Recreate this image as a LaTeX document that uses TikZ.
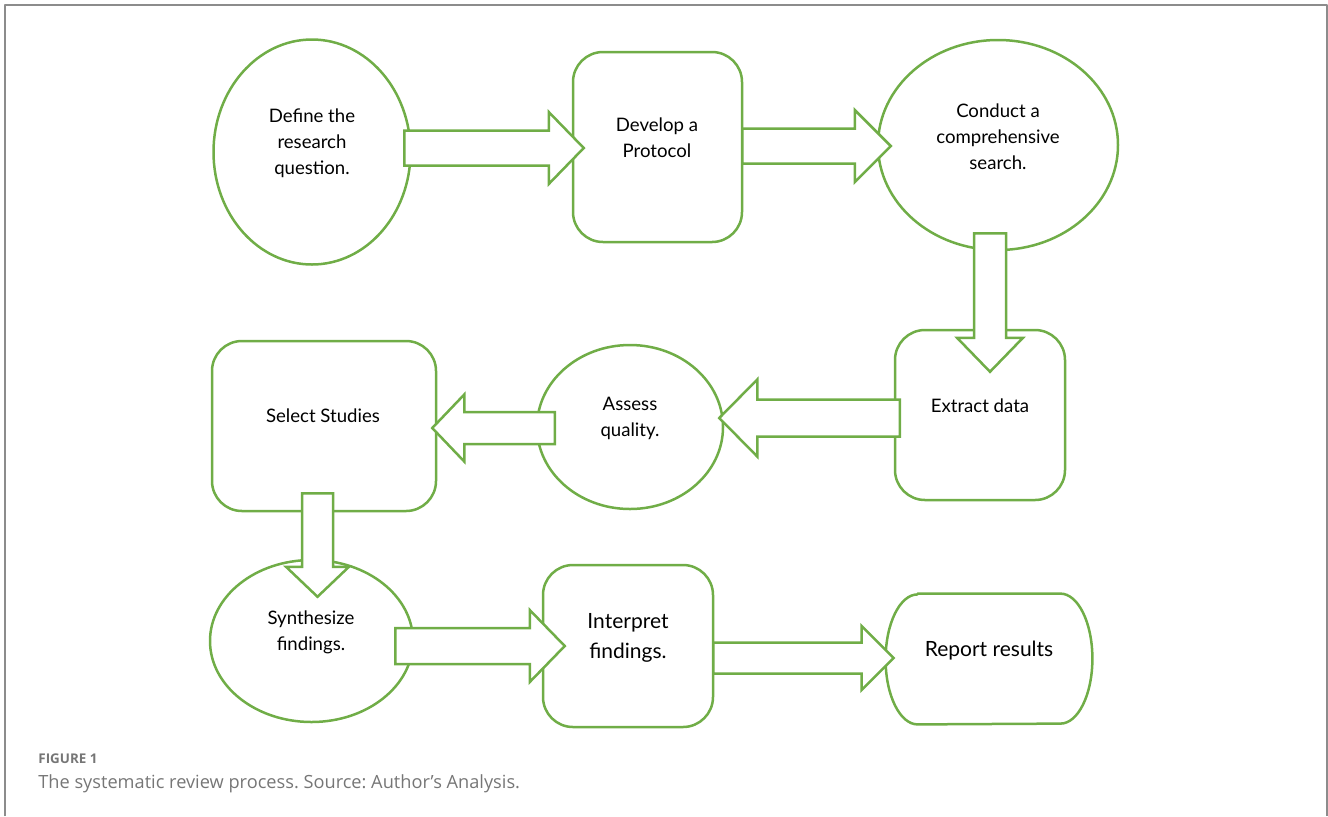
\documentclass[tikz,border=0pt]{standalone}
\usepackage{fontspec}
\setmainfont{Lato}
\newfontfamily\capfont{Open Sans}
\usetikzlibrary{shapes.geometric,calc}
\frenchspacing
\definecolor{stepgreen}{HTML}{70AD47}
\definecolor{framegray}{HTML}{8C8C8C}
\definecolor{capgray}{HTML}{767676}
\tikzset{
  stage/.style={draw=stepgreen, line width=1.25pt, inner sep=0pt},
  oval/.style={stage, ellipse},
  card/.style={stage, rectangle, rounded corners=15pt},
  lbl/.style={align=center, inner sep=0pt, font=\fontsize{9.3}{13}\selectfont},
  biglbl/.style={align=center, inner sep=0pt, font=\fontsize{10.5}{15}\selectfont},
  % block arrow: shaft width, head width, head length (all in px)
  blockarr/.style n args={3}{draw=stepgreen, line width=1.25pt, fill=white, line join=miter,
    to path={let \p1=(\tikztostart), \p2=(\tikztotarget),
      \n1={sign(\x2-\x1)}, \n2={sign(\y2-\y1)},
      \n3={#1*0.25pt}, \n4={#2*0.25pt}, \n5={#3*0.5pt} in
      ({\x1-(\n2)*(\n3)},{\y1+(\n1)*(\n3)})
      -- ({\x2-(\n1)*(\n5)-(\n2)*(\n3)},{\y2-(\n2)*(\n5)+(\n1)*(\n3)})
      -- ({\x2-(\n1)*(\n5)-(\n2)*(\n4)},{\y2-(\n2)*(\n5)+(\n1)*(\n4)})
      -- (\p2)
      -- ({\x2-(\n1)*(\n5)+(\n2)*(\n4)},{\y2-(\n2)*(\n5)-(\n1)*(\n4)})
      -- ({\x2-(\n1)*(\n5)+(\n2)*(\n3)},{\y2-(\n2)*(\n5)-(\n1)*(\n3)})
      -- ({\x1+(\n2)*(\n3)},{\y1-(\n1)*(\n3)}) -- cycle}}
}
\begin{document}
\begin{tikzpicture}[x=0.5pt, y=-0.5pt, line join=round]
  \useasboundingbox (0,0) rectangle (1328,816);
  \draw[framegray, line width=1pt] (5,816) -- (5,5) -- (1327,5) -- (1327,816);
  % the stages
  \node[oval, minimum width=98.5pt, minimum height=112.5pt] (define) at (312,152) {};
  \node[card, minimum width=84.5pt, minimum height=95pt] (protocol) at (657.5,147) {};
  \node[oval, minimum width=120pt, minimum height=105pt] (search) at (998,145) {};
  \node[card, minimum width=85pt, minimum height=85pt] (extract) at (980,415) {};
  \node[oval, minimum width=93pt, minimum height=82pt] (quality) at (630,427) {};
  \node[card, minimum width=112pt, minimum height=85pt] (select) at (324,426) {};
  \node[oval, minimum width=101.5pt, minimum height=81pt] (synth) at (311.5,641) {};
  \node[card, minimum width=85pt, minimum height=81pt] (interpret) at (628,646) {};
  \node[inner sep=0pt, minimum width=103pt, minimum height=65pt] (report) at (989,659) {};
  \draw[stepgreen, line width=1.25pt] ([xshift=16pt]report.north west) -- ([xshift=-16pt]report.north east)
    arc[start angle=90, end angle=-90, x radius=16pt, y radius=32.5pt]
    -- ([xshift=16pt]report.south west)
    arc[start angle=270, end angle=90, x radius=16pt, y radius=32.5pt] -- cycle;
  % arrows between the stages
  \coordinate (a1) at ([shift={(-7.5,-4)}]define.east);
  \coordinate (a2) at ([shift={(-1,-1)}]protocol.east);
  \coordinate (a3) at ([shift={(-8,-18)}]search.south);
  \coordinate (a4) at ([shift={(6,3)}]extract.west);
  \coordinate (a5) at ([shift={(19,1)}]quality.west);
  \coordinate (a6) at ([shift={(-6.5,-19)}]select.south);
  \coordinate (a7) at ([shift={(-19,5)}]synth.east);
  \coordinate (a8) at ([shift={(-1,12)}]interpret.east);
  \draw[blockarr={35}{72}{35}] (a1) to ($(a1 -| protocol.west)+(12,0)$);
  \draw[blockarr={35}{72}{36}] (a2) to ($(a2 -| search.west)+(14,0)$);
  \draw[blockarr={32}{66}{34}] (a3) to ($(a3 |- extract.north)+(0,43)$);
  \draw[blockarr={37}{77}{38}] (a4) to ($(a4 -| quality.east)+(-5,0)$);
  \draw[blockarr={32}{67}{32}] (a5) to ($(a5 -| select.east)+(-5,0)$);
  \draw[blockarr={31}{63}{30}] (a6) to ($(a6 |- synth.north)+(0,38)$);
  \draw[blockarr={36}{72}{35}] (a7) to ($(a7 -| interpret.west)+(23,0)$);
  \draw[blockarr={31}{64}{32}] (a8) to ($(a8 -| report.west)+(8,0)$);
  % texts
  \node[lbl] (define-t) at (312,143) {Define the\\research\\question.};
  \node[lbl] (protocol-t) at (657,138) {Develop a\\Protocol};
  \node[lbl] (search-t) at (998,137) {Conduct a\\comprehensive\\search.};
  \node[lbl] (extract-t) at (980,406) {Extract data};
  \node[lbl] (quality-t) at (630,418) {Assess\\quality.};
  \node[lbl] (select-t) at (323,416) {Select Studies};
  \node[lbl] (synth-t) at (311,632) {Synthesize\\findings.};
  \node[biglbl] (interpret-t) at (628,638) {Interpret\\findings.};
  \node[biglbl] (report-t) at (989,651) {Report results};
  % caption
  \node[anchor=base west, inner sep=0pt, text=capgray, font=\capfont\bfseries\fontsize{6.7}{8}\selectfont] (figno) at (38,763) {FIGURE 1};
  \node[anchor=base west, inner sep=0pt, text=capgray, font=\capfont\fontsize{9.1}{11}\selectfont] (figcap) at (38,788) {The systematic review process. Source: Author’s Analysis.};
\end{tikzpicture}
\end{document}
